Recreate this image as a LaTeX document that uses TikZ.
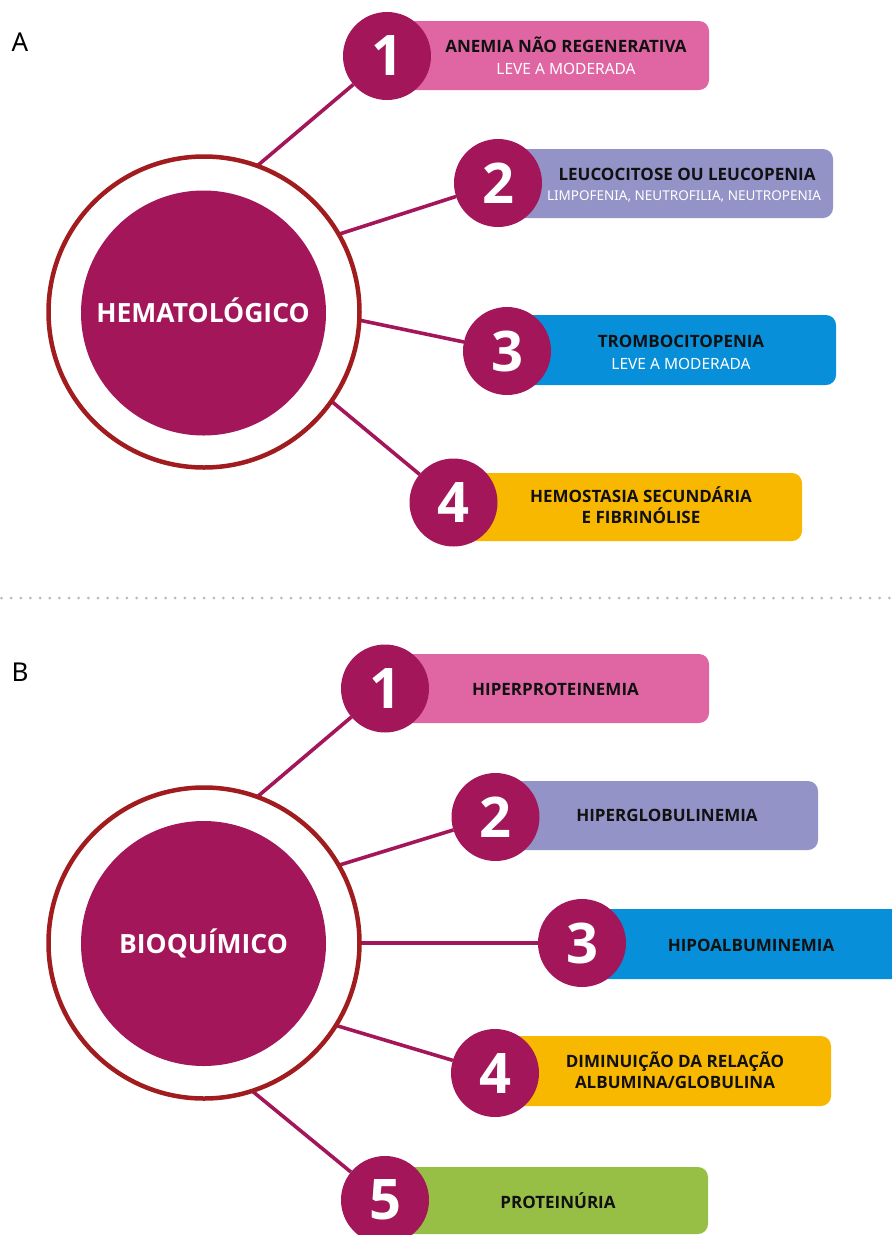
\documentclass[tikz,border=0pt]{standalone}
\usepackage{fontspec}
\setmainfont{Open Sans}
\newfontfamily\regf{Noto Sans}
\usetikzlibrary{backgrounds}
\definecolor{mag}{HTML}{A3165A}
\definecolor{ringc}{HTML}{A11C1E}
\definecolor{pinkb}{HTML}{E066A3}
\definecolor{lavb}{HTML}{9393C7}
\definecolor{blueb}{HTML}{078FD9}
\definecolor{yelb}{HTML}{F9B800}
\definecolor{greenb}{HTML}{97BE45}
\definecolor{dotc}{HTML}{B8B8B8}
\definecolor{txt}{HTML}{111111}
\begin{document}
\begin{tikzpicture}[x=1pt,y=-1pt,
 ring/.style={circle,draw=ringc,line width=4.5pt,fill=white,minimum size=311pt,inner sep=0pt,outer sep=0pt},
 core/.style={circle,fill=mag,minimum size=245pt,inner sep=0pt},
 num/.style={circle,fill=mag,minimum size=88pt,inner sep=0pt,outer sep=0pt,text=white,font=\fontsize{56}{56}\selectfont\bfseries},
 conn/.style={draw=mag,line width=3.6pt},
 itembox/.style={rectangle,rounded corners=10pt,inner sep=0pt,outer sep=0pt},
 title/.style={anchor=base,text=white,font=\fontsize{26.5}{30}\selectfont\bfseries,inner sep=0pt},
 mainline/.style={anchor=base,text=txt,font=\fontsize{17}{20}\selectfont\bfseries,inner sep=0pt},
 subline/.style={anchor=base,text=white,font=\regf\fontsize{15.5}{18}\selectfont,inner sep=0pt},
 smallline/.style={anchor=base,text=white,font=\regf\fontsize{13.5}{16}\selectfont,inner sep=0pt},
 letter/.style={anchor=base,text=black,font=\regf\fontsize{26}{30}\selectfont,inner sep=0pt},
]
\useasboundingbox (0,0) rectangle (892,1235);
\clip (0,0) rectangle (892,1235);

% ---------- A ----------
\node[letter] (labA) at (20,51.5) {A};
\node[ring] (RA) at (204,312) {};
\node[core] (CA) at (203.5,313) {};
\node[title] (tA) at (203,322) {HEMATOLÓGICO};

\node[itembox,fill=pinkb,minimum width=322pt,minimum height=69pt] (bA1) at (548,55.5) {};
\node[itembox,fill=lavb,minimum width=335pt,minimum height=69pt] (bA2) at (665.5,183.5) {};
\node[itembox,fill=blueb,minimum width=329pt,minimum height=70pt] (bA3) at (671.5,350) {};
\node[itembox,fill=yelb,minimum width=349pt,minimum height=68pt] (bA4) at (627.5,507) {};

\node[num] (nA1) at (387,56) {1};
\node[num] (nA2) at (498,183) {2};
\node[num] (nA3) at (507,351) {3};
\node[num] (nA4) at (453.5,502.5) {4};

\node[mainline] (mA1) at (566,52) {ANEMIA NÃO REGENERATIVA};
\node[subline] (sA1) at (566,74.5) {LEVE A MODERADA};
\node[mainline] (mA2) at (687,180) {LEUCOCITOSE OU LEUCOPENIA};
\node[smallline] (sA2) at (684,200) {LIMPOFENIA, NEUTROFILIA, NEUTROPENIA};
\node[mainline] (mA3) at (681,347) {TROMBOCITOPENIA};
\node[subline] (sA3) at (681,369.5) {LEVE A MODERADA};
\node[mainline] (mA4) at (641,502) {HEMOSTASIA SECUNDÁRIA};
\node[mainline] (mA4b) at (641,523) {E FIBRINÓLISE};

% ---------- separator ----------
\draw[dotc,line width=3pt,line cap=round,dash pattern=on 0pt off 9.65pt] (1.5,598) -- (892,598);

% ---------- B ----------
\node[letter] (labB) at (20,681.5) {B};
\node[ring] (RB) at (204,943) {};
\node[core] (CB) at (203.5,943.5) {};
\node[title] (tB) at (203.5,953) {BIOQUÍMICO};

\node[itembox,fill=pinkb,minimum width=324pt,minimum height=69pt] (bB1) at (547,688.5) {};
\node[itembox,fill=lavb,minimum width=323pt,minimum height=69pt] (bB2) at (656.5,815.5) {};
\node[itembox,fill=blueb,minimum width=323pt,minimum height=70pt] (bB3) at (743.5,944) {};
\node[itembox,fill=yelb,minimum width=336pt,minimum height=70pt] (bB4) at (663,1071) {};
\node[itembox,fill=greenb,minimum width=323pt,minimum height=67pt] (bB5) at (546.5,1200.5) {};

\node[num] (nB1) at (385,688.5) {1};
\node[num] (nB2) at (495.5,817) {2};
\node[num] (nB3) at (582,943) {3};
\node[num] (nB4) at (495,1073) {4};
\node[num] (nB5) at (385,1200) {5};

\node[mainline] (mB1) at (555.5,695) {HIPERPROTEINEMIA};
\node[mainline] (mB2) at (667,821) {HIPERGLOBULINEMIA};
\node[mainline] (mB3) at (751,951) {HIPOALBUMINEMIA};
\node[mainline] (mB4) at (675,1067) {DIMINUIÇÃO DA RELAÇÃO};
\node[mainline] (mB4b) at (675,1088) {ALBUMINA/GLOBULINA};
\node[mainline] (mB5) at (558,1208) {PROTEINÚRIA};

% ---------- connectors ----------
\begin{scope}[on background layer]
\draw[conn] (RA.70) -- (nA1);
\draw[conn] (RA.30.5) -- (nA2);
\draw[conn] (RA.-3.7) -- (nA3);
\draw[conn] (RA.-35.4) -- (nA4);
\draw[conn] (RB.70) -- (nB1);
\draw[conn] (RB.30.8) -- (nB2);
\draw[conn] (RB.0) -- (nB3);
\draw[conn] (RB.-32.3) -- (nB4);
\draw[conn] (RB.-72.3) -- (nB5);
\end{scope}
\end{tikzpicture}
\end{document}
